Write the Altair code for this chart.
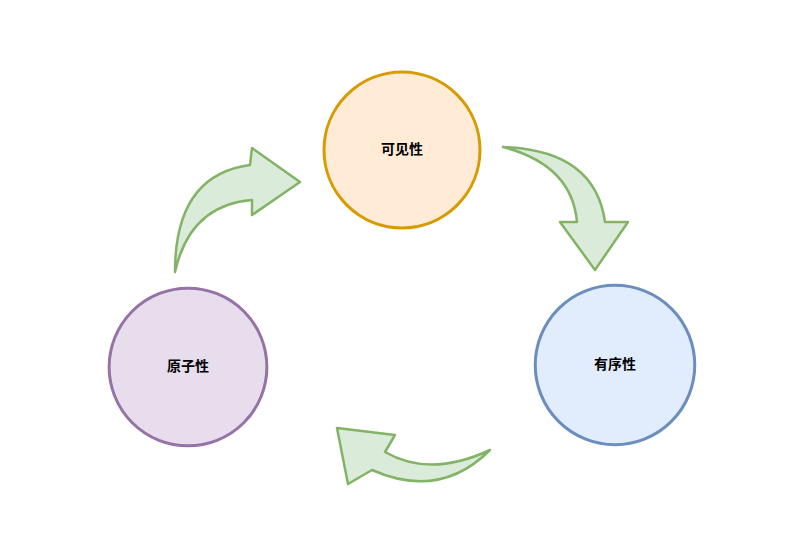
import altair as alt
import pandas as pd

# nodes
names = ["可见性", "有序性", "原子性"]
cx = [394, 607, 180]
cy = [142, 357, 359]
radius = [88, 90, 89]
fills = ["#ffe6cc", "#dae8fc", "#e1d5e7"]
strokes = ["#d79b00", "#6c8ebf", "#9673a6"]

# curved arrow outlines (shape style, plot-pixel frame)
arrow_paths = [
    "M167,264 Q167,167 242,157 L244,140 L292,174 L244,207 L244,192 Q182,197 167,264 Z",
    "M495,139 Q587,142 597,214 L620,214 L587,262 L552,214 L569,214 Q564,157 495,139 Z",
    "M482,442 Q432,492 364,462 L340,476 L329,420 L387,427 L377,444 Q422,470 482,442 Z",
]

nodes = pd.DataFrame({"name": names, "x": cx, "y": cy, "r": radius,
                      "fill": fills, "stroke": strokes})
nodes["size"] = 3.14159 * nodes["r"] ** 2
arrows = pd.DataFrame({"path": arrow_paths, "x": [0] * 3, "y": [0] * 3})

X = alt.X("x:Q", scale=alt.Scale(domain=[0, 790]), axis=None)
Y = alt.Y("y:Q", scale=alt.Scale(domain=[529, 0]), axis=None)

arrow_layer = alt.Chart(arrows).mark_point(
    filled=True, fill="#d5e8d4", fillOpacity=0.85, stroke="#82b366",
    strokeWidth=2.5, size=4, strokeJoin="round", opacity=1
).encode(x=X, y=Y, shape=alt.Shape("path:N", scale=None))

circles = alt.Chart(nodes).mark_point(
    filled=True, strokeWidth=3, opacity=1, fillOpacity=0.8, shape="circle"
).encode(
    x=X, y=Y,
    size=alt.Size("size:Q", scale=None),
    fill=alt.Fill("fill:N", scale=None),
    stroke=alt.Stroke("stroke:N", scale=None),
)

labels = alt.Chart(nodes).mark_text(
    font="Noto Sans CJK SC", fontSize=14, fontWeight="bold", color="#000000"
).encode(x=X, y=Y, text="name:N")

chart = alt.layer(arrow_layer, circles, labels).properties(
    width=790, height=529, padding=0, autosize="none"
).configure_view(stroke=None)

chart.save("out.html", embed_options={"renderer": "svg", "actions": False})
